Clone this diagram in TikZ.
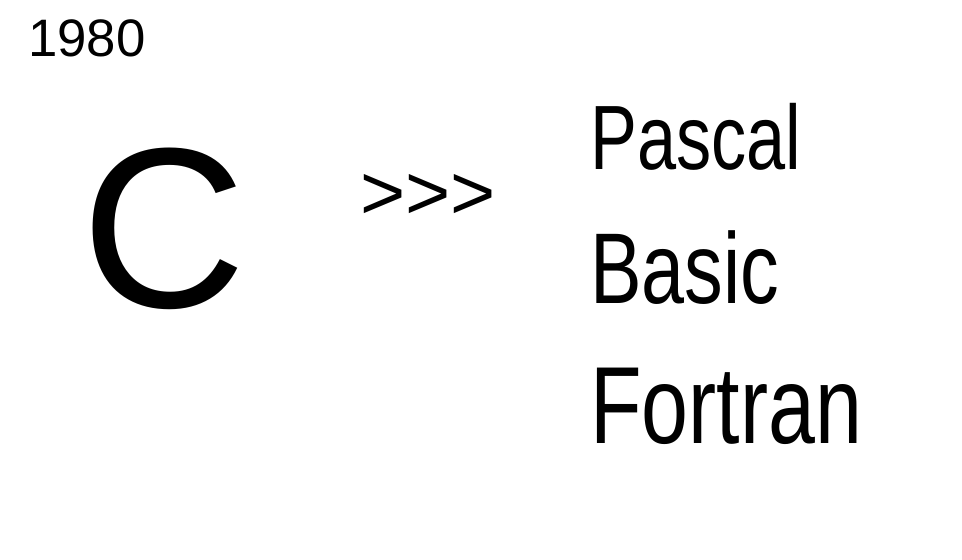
\documentclass[tikz,border=0pt]{standalone}
\usepackage{fontspec}
\setmainfont{Liberation Sans}
\newcommand{\tallword}[1]{\scalebox{1}[1.3]{#1}}

\begin{document}
\begin{tikzpicture}
            \tikzset{lang/.style={anchor=west, inner sep=0pt, font=\fontsize{44}{48}\selectfont}}
            % Page frame
            \useasboundingbox (0,0) rectangle (19.24,11.2);
            % Year in the corner
            \node[font=\fontsize{30}{34}\selectfont] (year) at (1.74,10.44) {1980};
            % Big letter C and the arrows
            \node[font=\fontsize{130}{140}\selectfont] (clang) at (3.28,6.62) {C};
            \node[font=\fontsize{44}{48}\selectfont] (arrows) at (8.56,7.26) {>{}>{}>};
            % Languages on the right
            \node[lang, font=\fontsize{40}{44}\selectfont] (pascal) at (11.8,8.46) {\tallword{Pascal}}; % Text
            \node[lang] (basic) at (11.8,5.84) {\tallword{Basic}}; % Text
            \node[lang, font=\fontsize{48}{52}\selectfont] (fortran) at (11.8,3.08) {\tallword{Fortran}}; % Text
        \end{tikzpicture}
\end{document}
